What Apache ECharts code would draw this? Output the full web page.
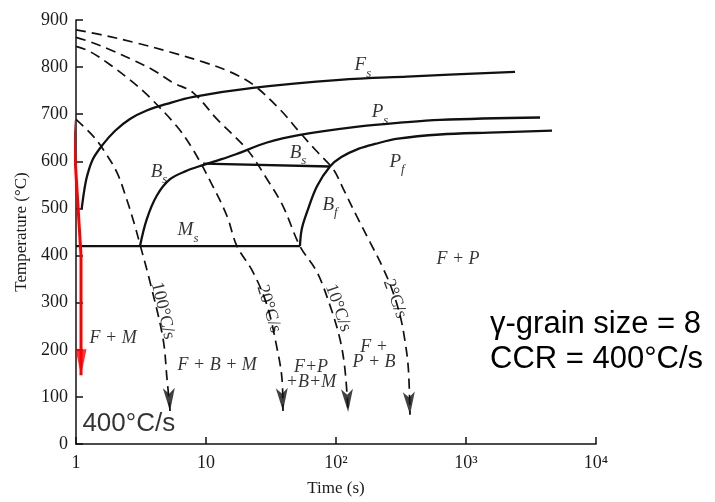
<!DOCTYPE html>
<html><head><meta charset="utf-8">
<script src="https://cdn.jsdelivr.net/npm/echarts@6/dist/echarts.min.js"></script>
<style>html,body{margin:0;padding:0;background:#fff}#c{width:715px;height:502px}</style>
</head><body><div id="c"></div>
<script>
// ---- data (time in s, temperature in °C) ----
const xTickLabels = ['1', '10', '10²', '10³', '10⁴'];
const cool100 = [[1,689],[1.36,653],[1.62,625],[2.06,577],[2.45,520],[2.84,463],[3.11,423],[3.71,344],[4.67,224],[5.01,139],[5.29,70]];
const cool20 = [[1,844],[1.28,833],[1.83,805],[2.6,773],[3.5,742],[5.98,674],[7.94,625],[11.3,547],[14.5,484],[17.3,420],[23,365],[29.5,294],[35.2,203],[38.4,139],[39.1,70]];
const cool10 = [[1,863],[1.28,854],[1.83,837],[2.74,815],[3.91,794],[5.57,767],[7.94,746],[12.2,689],[20.7,625],[29.5,562],[39.1,505],[52.8,420],[71.4,365],[89.9,294],[107,224],[117,160],[124,68]];
const cool2 = [[1,879],[1.61,868],[2.95,851],[5.29,832],[9.48,811],[15.3,790],[23,763],[37.1,710],[52.8,661],[70.2,623],[95.3,583],[114,541],[144,484],[183,428],[225,379],[268,330],[311,273],[340,217],[360,161],[371,62]];
const fsCurve = [[1.106,499],[1.16,540],[1.22,570],[1.35,605],[1.6,635],[2.0,665],[2.6,690],[3.5,708],[5,722],[8,737],[23,756],[107,773],[352,780],[2383,790]];
const psCurve = [[3.11,421],[3.5,477],[4.18,527],[5.29,562],[7.1,580],[9.48,592],[13,604],[17,615],[29.5,640],[52.8,656],[153,674],[311,682],[631,688],[3710,693]];
const bsLine = [[9.5,595],[90,589]];
const msLine = [[1,420],[52.8,420]];
const bfPfCurve = [[52.8,420],[54.5,456],[59.8,492],[71.4,547],[89.9,589],[110,609],[150,627],[200,637],[300,648],[631,657],[1500,661],[4590,665]];
const critical = [[0.944,687],[1.093,400],[1.093,146]];

const rateLabels = ['100°C/s', '20°C/s', '10°C/s', '2°C/s'];
const ratePos = [[4.67,283],[30.5,287],[104,289],[284,308]];
const rateRot = [-77, -73, -71, -70];
const lineLabels = [['F','s'],['P','s'],['P','f'],['B','s'],['B','s'],['M','s'],['B','f']];
const lineLabelPos = [[161,799],[218,699],[295,594],[4.35,573],[51,613],[7.27,448],[89.9,503]];
const regionLabels = ['F + M', 'F + B + M', 'F+P\n+B+M', 'F +\nP + B', 'F + P'];
const regionPos = [[1.93,224],[12.2,167],[64.2,146],[196,189],[868,393]];
const critLabel = '400°C/s';
const critLabelPos = [1.11, 43];
const noteLines = ['γ-grain size = 8', 'CCR = 400°C/s'];

// ---- chart ----
const SERIF = '"Liberation Serif", "Times New Roman", serif';
const INK = '#111';
const coolCurves = [cool100, cool20, cool10, cool2];
const solidCurves = [fsCurve, psCurve, bsLine, msLine, bfPfCurve];

const series = [];
coolCurves.forEach(c => series.push({
  type: 'line', data: c, smooth: 0.35, symbol: 'none', silent: true,
  lineStyle: {color: INK, width: 1.7, type: [10, 6]}
}));
solidCurves.forEach(c => series.push({
  type: 'line', data: c, smooth: c.length > 2 ? 0.35 : false, symbol: 'none', silent: true,
  lineStyle: {color: INK, width: 2.3}
}));
series.push({
  type: 'scatter', silent: true, z: 5,
  data: coolCurves.map(c => c[c.length - 1]),
  symbol: 'arrow', symbolSize: [9, 23], symbolRotate: 183,
  itemStyle: {color: INK}
});
series.push({
  type: 'line', data: critical, clip: false, symbol: 'none', silent: true, z: 6,
  lineStyle: {color: '#f00', width: 3}
});
series.push({
  type: 'scatter', silent: true, z: 7, clip: false,
  data: [critical[critical.length - 1]],
  symbol: 'triangle', symbolSize: [11, 26], symbolRotate: 180, symbolOffset: [0, -13],
  itemStyle: {color: '#f00'}
});
const labelData = [];
rateLabels.forEach((t, i) => labelData.push({
  value: ratePos[i],
  label: {show: true, position: 'inside', formatter: t, rotate: rateRot[i],
    fontFamily: SERIF, fontSize: 18, color: '#000'}
}));
lineLabels.forEach((p, i) => labelData.push({
  value: lineLabelPos[i],
  label: {show: true, position: 'inside', formatter: '{m|' + p[0] + '}{s|' + p[1] + '}',
    rich: {
      m: {fontFamily: SERIF, fontStyle: 'italic', fontSize: 19, color: '#000', verticalAlign: 'top', padding: [0, 0, 5, 0]},
      s: {fontFamily: SERIF, fontStyle: 'italic', fontSize: 13, color: '#000', verticalAlign: 'bottom'}
    }}
}));
regionLabels.forEach((t, i) => labelData.push({
  value: regionPos[i],
  label: {show: true, position: 'inside', formatter: t, align: 'center',
    fontFamily: SERIF, fontStyle: 'italic', fontSize: 18, lineHeight: 15, color: '#000'}
}));
labelData.push({
  value: critLabelPos,
  label: {show: true, position: 'right', distance: 0, formatter: critLabel,
    fontFamily: '"Liberation Sans", Arial, sans-serif', fontSize: 26, color: '#000'}
});
series.push({
  type: 'scatter', silent: true, z: 8, symbolSize: 1, clip: false,
  itemStyle: {color: 'rgba(0,0,0,0)'}, data: labelData
});

const chart = echarts.init(document.getElementById('c'), null, {renderer: 'canvas'});
chart.setOption({
  animation: false,
  backgroundColor: '#fff',
  grid: {left: 76, right: 119, top: 20, bottom: 56, containLabel: false},
  xAxis: {
    type: 'log', logBase: 10, min: 1, max: 10000,
    name: 'Time (s)', nameLocation: 'middle', nameGap: 36,
    nameTextStyle: {fontFamily: SERIF, fontSize: 17, color: '#1a1a1a'},
    axisLine: {lineStyle: {color: INK, width: 1.5}},
    axisTick: {inside: true, length: 7, lineStyle: {color: INK, width: 1.5}},
    minorTick: {show: false},
    splitLine: {show: false},
    axisLabel: {fontFamily: SERIF, fontSize: 18, color: '#1a1a1a', margin: 10,
      formatter: v => xTickLabels[Math.round(Math.log10(v))]}
  },
  yAxis: {
    type: 'value', min: 0, max: 900, interval: 100,
    name: 'Temperature (°C)', nameLocation: 'middle', nameGap: 46,
    nameTextStyle: {fontFamily: SERIF, fontSize: 17, color: '#1a1a1a'},
    axisLine: {show: true, lineStyle: {color: INK, width: 1.5}},
    axisTick: {show: true, inside: true, length: 7, lineStyle: {color: INK, width: 1.5}},
    splitLine: {show: false},
    axisLabel: {fontFamily: SERIF, fontSize: 18, color: '#1a1a1a', margin: 8}
  },
  graphic: [{
    type: 'text', left: 490, top: 307, silent: true,
    style: {text: noteLines.join('\n'), font: '31px "Liberation Sans", Arial, sans-serif',
      lineHeight: 35, fill: '#000'}
  }],
  series: series
});
</script></body></html>
